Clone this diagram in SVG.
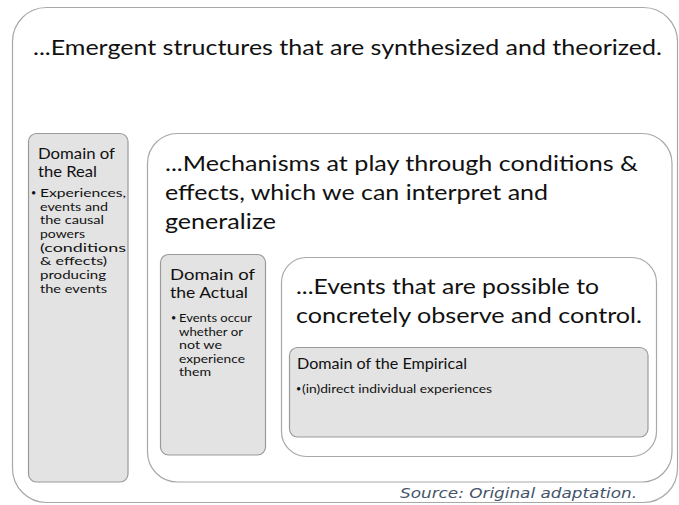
<svg xmlns="http://www.w3.org/2000/svg" width="679" height="505" viewBox="0 0 679 505">
<style>
.frame{fill:#ffffff;stroke:#a8a8a8;stroke-width:1.2}
.dom{fill:#e3e3e3;stroke:#9a9a9a;stroke-width:1.2}
text{font-family:Lato,"Open Sans","Liberation Sans",sans-serif;fill:#111111}
.big{font-size:22px}
.h{font-size:15px}
.b{font-size:11.5px}
.e{font-size:11px}
.dot{font-size:9px}
.src{font-family:"DejaVu Sans",Verdana,sans-serif;font-style:italic;font-size:14.5px;fill:#44546a}
</style>
<rect x="0" y="0" width="679" height="505" fill="#ffffff"/>
<g id="emergent">
<rect class="frame" x="12.5" y="7.5" width="665" height="495" rx="34"/>
<text class="big" x="33" y="55" textLength="629" lengthAdjust="spacingAndGlyphs">...Emergent structures that are synthesized and theorized.</text>
</g>
<g id="domain-real">
<rect class="dom" x="28.5" y="133.5" width="99.5" height="348.5" rx="8"/>
<text class="h" x="38" y="159" textLength="77" lengthAdjust="spacingAndGlyphs">Domain of</text>
<text class="h" x="38" y="177" textLength="59" lengthAdjust="spacingAndGlyphs">the Real</text>
<text class="dot" x="31" y="196">•</text>
<text class="b" x="40" y="197" textLength="86" lengthAdjust="spacingAndGlyphs">Experiences,</text>
<text class="b" x="40" y="210.5" textLength="68" lengthAdjust="spacingAndGlyphs">events and</text>
<text class="b" x="40" y="224" textLength="64" lengthAdjust="spacingAndGlyphs">the causal</text>
<text class="b" x="40" y="238" textLength="45" lengthAdjust="spacingAndGlyphs">powers</text>
<text class="b" x="40" y="251.5" textLength="86" lengthAdjust="spacingAndGlyphs">(conditions</text>
<text class="b" x="40" y="265" textLength="67" lengthAdjust="spacingAndGlyphs">&amp; effects)</text>
<text class="b" x="40" y="279" textLength="66" lengthAdjust="spacingAndGlyphs">producing</text>
<text class="b" x="40" y="292.5" textLength="67" lengthAdjust="spacingAndGlyphs">the events</text>
</g>
<g id="mechanisms">
<rect class="frame" x="147.5" y="133.5" width="524.5" height="348.5" rx="30"/>
<text class="big" x="165" y="171" textLength="473" lengthAdjust="spacingAndGlyphs">...Mechanisms at play through conditions &amp;</text>
<text class="big" x="165" y="200" textLength="383" lengthAdjust="spacingAndGlyphs">effects, which we can interpret and</text>
<text class="big" x="165" y="229" textLength="111" lengthAdjust="spacingAndGlyphs">generalize</text>
</g>
<g id="domain-actual">
<rect class="dom" x="160.5" y="254.5" width="105" height="200.5" rx="8"/>
<text class="h" x="170" y="280" textLength="85" lengthAdjust="spacingAndGlyphs">Domain of</text>
<text class="h" x="170" y="298" textLength="78" lengthAdjust="spacingAndGlyphs">the Actual</text>
<text class="dot" x="171" y="321">•</text>
<text class="b" x="179" y="322" textLength="73" lengthAdjust="spacingAndGlyphs">Events occur</text>
<text class="b" x="179" y="335.5" textLength="64" lengthAdjust="spacingAndGlyphs">whether or</text>
<text class="b" x="179" y="349" textLength="43" lengthAdjust="spacingAndGlyphs">not we</text>
<text class="b" x="179" y="362.5" textLength="66" lengthAdjust="spacingAndGlyphs">experience</text>
<text class="b" x="179" y="376" textLength="32" lengthAdjust="spacingAndGlyphs">them</text>
</g>
<g id="events">
<rect class="frame" x="281.5" y="257.5" width="375" height="199" rx="25"/>
<text class="big" x="296" y="294" textLength="303" lengthAdjust="spacingAndGlyphs">...Events that are possible to</text>
<text class="big" x="296" y="323" textLength="346" lengthAdjust="spacingAndGlyphs">concretely observe and control.</text>
</g>
<g id="domain-empirical">
<rect class="dom" x="289.5" y="347.5" width="358.5" height="89.5" rx="8"/>
<text class="h" x="297" y="369" textLength="170" lengthAdjust="spacingAndGlyphs">Domain of the Empirical</text>
<text class="dot" x="296" y="392">•</text>
<text class="e" x="302" y="393" textLength="190" lengthAdjust="spacingAndGlyphs">(in)direct individual experiences</text>
</g>
<g id="connectors"></g>
<text class="src" x="400" y="498" textLength="237" lengthAdjust="spacingAndGlyphs">Source: Original adaptation.</text>
</svg>
